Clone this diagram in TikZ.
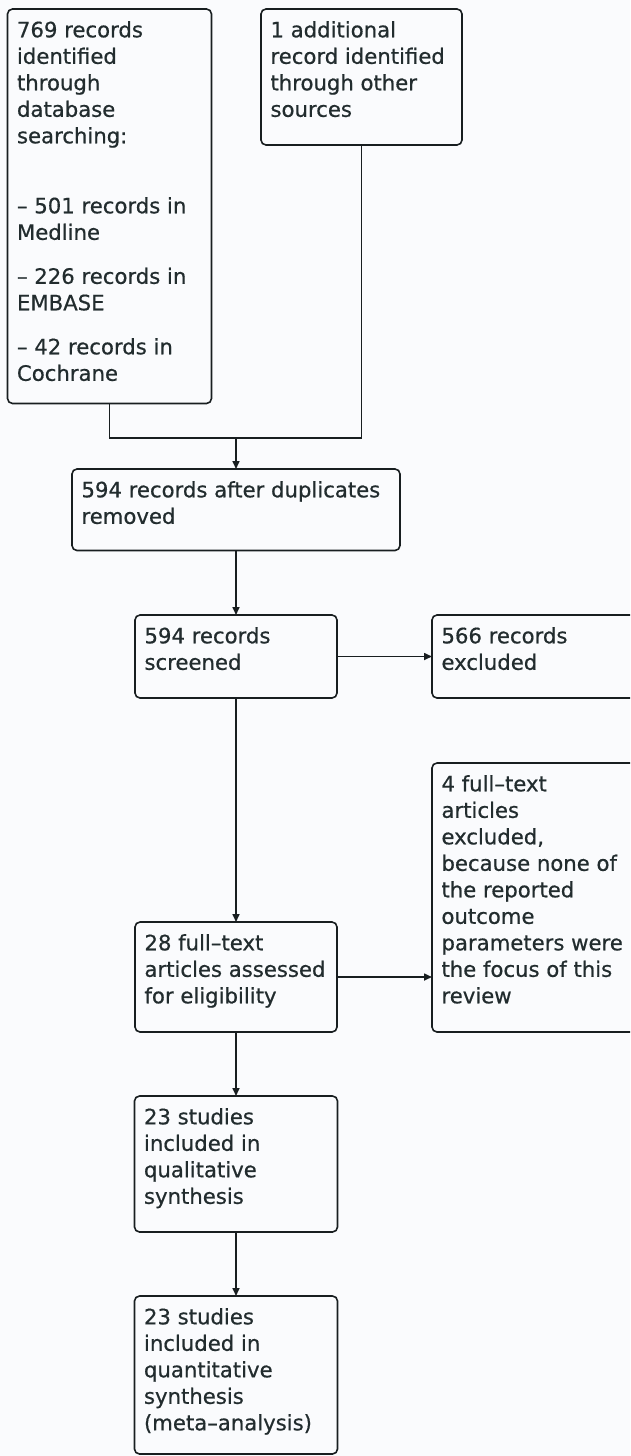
\documentclass[tikz,border=0pt]{standalone}
\usepackage{fontspec}
\setmainfont[FakeBold=0.6]{DejaVu Sans}
\usetikzlibrary{arrows.meta}
\definecolor{bgc}{RGB}{250,251,253}
\definecolor{linec}{RGB}{24,30,32}
\definecolor{textc}{RGB}{34,44,46}
\newcommand{\bxt}[3]{\begin{minipage}[t][#2][t]{#1}\fontsize{21.2}{26.5}\selectfont\parindent0pt\leftskip9.5pt\rightskip0pt plus 1fil\rule{0pt}{28.3pt}#3\end{minipage}}
\begin{document}
\begin{tikzpicture}[x=1pt,y=-1pt,
  box/.style={draw=linec, line width=1.6pt, rounded corners=5pt, fill=bgc, inner sep=0pt, outer sep=0pt, anchor=north west, text=textc},
  arr/.style={draw=linec, line width=1.6pt, -{Triangle[length=8pt,width=7pt]}},
  ln/.style={draw=linec, line width=1.6pt}]
\useasboundingbox (0,0) rectangle (630,1456);
\fill[bgc] (0,0) rectangle (630,1456);
\clip (0,0) rectangle (630,1456);
\node[box] (B1) at (7.5,9) {\bxt{204pt}{394.5pt}{769 records\\identified\\through\\database\\searching:\\[43.5pt]– 501 records in\\Medline\\[17.5pt]– 226 records in\\EMBASE\\[17.5pt]– 42 records in\\Cochrane}};
\node[box] (B2) at (261,9) {\bxt{201pt}{136pt}{1 additional\\record identified\\through other\\sources}};
\node[box] (B3) at (72,469) {\bxt{328pt}{81.5pt}{594 records after duplicates\\removed}};
\node[box] (B4) at (135,615) {\bxt{202pt}{83pt}{594 records\\screened}};
\node[box] (B5) at (432,615) {\bxt{230pt}{83pt}{566 records\\excluded}};
\node[box] (B6) at (135,922) {\bxt{202pt}{110pt}{28 full–text\\articles assessed\\for eligibility}};
\node[box] (B7) at (432,763) {\bxt{230pt}{269pt}{4 full–text\\articles\\excluded,\\because none of\\the reported\\outcome\\parameters were\\the focus of this\\review}};
\node[box] (B8) at (134.5,1096) {\bxt{203pt}{136pt}{23 studies\\included in\\qualitative\\synthesis}};
\node[box] (B9) at (134.5,1296) {\bxt{203pt}{158pt}{23 studies\\included in\\quantitative\\synthesis\\(meta–analysis)}};
\coordinate (J) at (236,437.7);
\draw[ln] (B1.south) |- (J) -| (B2.south);
\draw[arr] (J) -- (B3.north);
\draw[arr] (B3) -- (B4);
\draw[arr] (B4) -- (B5);
\draw[arr] (B4) -- (B6);
\draw[arr] (B6.east) -- (B6.east -| B7.west);
\draw[arr] (B6) -- (B8);
\draw[arr] (B8) -- (B9);
\end{tikzpicture}
\end{document}
